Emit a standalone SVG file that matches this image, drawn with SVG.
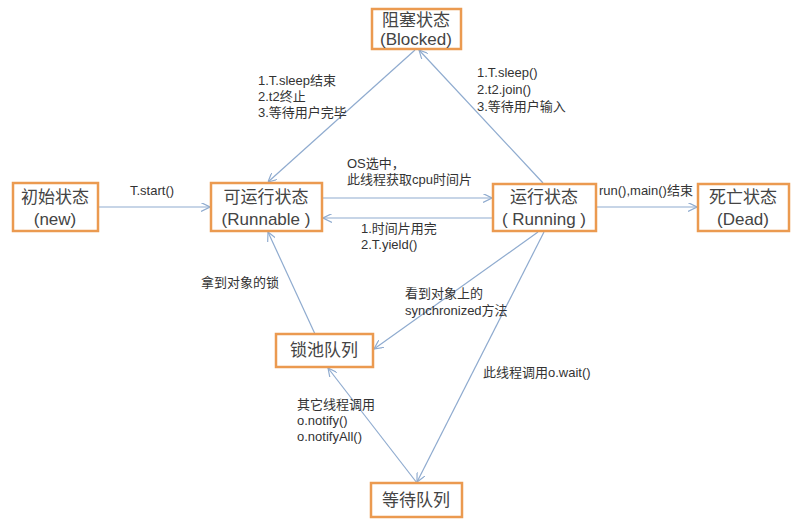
<svg xmlns="http://www.w3.org/2000/svg" width="796" height="531" viewBox="0 0 796 531">
<defs>
<marker id="arr" viewBox="0 0 10 10" refX="10" refY="5" markerWidth="9" markerHeight="9" markerUnits="userSpaceOnUse" orient="auto">
<path d="M0,0 L10,5 L0,10" fill="none" stroke="#8FABCF" stroke-width="1.3"/>
</marker>
</defs>
<style>
.box{fill:#fff;stroke:#EB9A50;stroke-width:2.5}
.nt{font-family:"Liberation Sans","Noto Sans CJK SC",sans-serif;font-size:17px;fill:#444;text-anchor:middle}
.lb{font-family:"Liberation Sans","Noto Sans CJK SC",sans-serif;font-size:13px;fill:#333}
.cn{fill:none;stroke:#8FABCF;stroke-width:1.2;marker-end:url(#arr)}
</style>
<rect width="796" height="531" fill="#fff"/>
<g id="connectors">
<line class="cn" x1="98" y1="207" x2="210" y2="207"/>
<line class="cn" x1="322" y1="198" x2="492" y2="198"/>
<line class="cn" x1="493" y1="218" x2="323" y2="218"/>
<line class="cn" x1="596" y1="207" x2="697" y2="207"/>
<line class="cn" x1="543" y1="183" x2="419" y2="50"/>
<line class="cn" x1="415" y1="50" x2="268" y2="182"/>
<line class="cn" x1="538" y1="232" x2="374" y2="349"/>
<line class="cn" x1="315" y1="334" x2="268" y2="232"/>
<line class="cn" x1="544" y1="232" x2="417" y2="482"/>
<line class="cn" x1="417" y1="483" x2="328" y2="368"/>
</g>
<g id="labels">
<text class="lb" x="130" y="195">T.start()</text>
<text class="lb" x="347" y="168">OS选中，</text>
<text class="lb" x="347" y="184">此线程获取cpu时间片</text>
<text class="lb" x="361" y="233">1.时间片用完</text>
<text class="lb" x="361" y="249">2.T.yield()</text>
<text class="lb" x="258" y="85">1.T.sleep结束</text>
<text class="lb" x="258" y="101">2.t2终止</text>
<text class="lb" x="258" y="117">3.等待用户完毕</text>
<text class="lb" x="477" y="77">1.T.sleep()</text>
<text class="lb" x="477" y="94">2.t2.join()</text>
<text class="lb" x="477" y="111">3.等待用户输入</text>
<text class="lb" x="599" y="195">run(),main()结束</text>
<text class="lb" x="405" y="298">看到对象上的</text>
<text class="lb" x="405" y="315">synchronized方法</text>
<text class="lb" x="201" y="287">拿到对象的锁</text>
<text class="lb" x="483" y="377">此线程调用o.wait()</text>
<text class="lb" x="297" y="409">其它线程调用</text>
<text class="lb" x="297" y="425">o.notify()</text>
<text class="lb" x="297" y="441">o.notifyAll()</text>
</g>
<g id="blocked">
<rect class="box" x="372" y="9" width="89" height="40"/>
<text class="nt" x="416" y="26">阻塞状态</text>
<text class="nt" x="416" y="45">(Blocked)</text>
</g>
<g id="new">
<rect class="box" x="13" y="183" width="85" height="48"/>
<text class="nt" x="55" y="203">初始状态</text>
<text class="nt" x="55" y="225">(new)</text>
</g>
<g id="runnable">
<rect class="box" x="211" y="183" width="111" height="48"/>
<text class="nt" x="266" y="203">可运行状态</text>
<text class="nt" x="266" y="225">(Runnable )</text>
</g>
<g id="running">
<rect class="box" x="493" y="184" width="103" height="47"/>
<text class="nt" x="544" y="203">运行状态</text>
<text class="nt" x="544" y="225">( Running )</text>
</g>
<g id="dead">
<rect class="box" x="698" y="184" width="91" height="47"/>
<text class="nt" x="743" y="203">死亡状态</text>
<text class="nt" x="743" y="225">(Dead)</text>
</g>
<g id="lockpool">
<rect class="box" x="276" y="334" width="97" height="33"/>
<text class="nt" x="324" y="356">锁池队列</text>
</g>
<g id="waitqueue">
<rect class="box" x="371" y="483" width="91" height="34"/>
<text class="nt" x="416" y="506">等待队列</text>
</g>
</svg>
